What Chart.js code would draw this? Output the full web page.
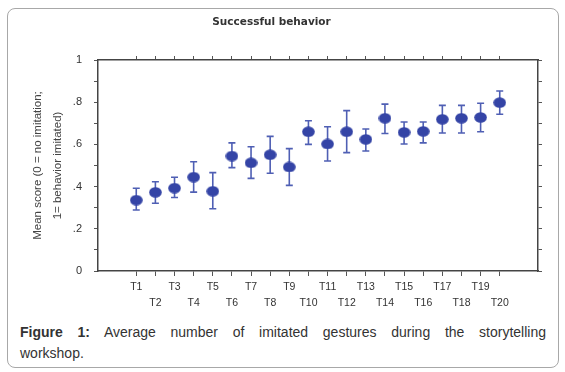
<!DOCTYPE html>
<html>
<head>
<meta charset="utf-8">
<script src="https://cdn.jsdelivr.net/npm/chart.js@4.4.1/dist/chart.umd.min.js"></script>
<style>
html, body { margin: 0; padding: 0; background: #fff; }
body { width: 565px; height: 372px; position: relative; overflow: hidden; font-family: "Liberation Sans", Arial, sans-serif; }
#frame { position: absolute; left: 7px; top: 8px; width: 550px; height: 358px; border: 1px solid #a8a8a8; border-radius: 8px; }
#wrap { position: absolute; left: 0; top: 0; width: 565px; height: 320px; }
#caption { position: absolute; left: 20px; top: 322px; width: 526px; font-size: 14px; line-height: 21px; color: #333; }
#caption .l1 { text-align: justify; text-align-last: justify; }
</style>
</head>
<body>
<div id="frame"></div>
<div id="wrap"><canvas id="chart_successfulBehavior"></canvas></div>
<div id="caption"><div class="l1"><b>Figure 1:</b> Average number of imitated gestures during the storytelling</div><div>workshop.</div></div>
<script>
// values
const categories = ['T1', 'T2', 'T3', 'T4', 'T5', 'T6', 'T7', 'T8', 'T9', 'T10',
                    'T11', 'T12', 'T13', 'T14', 'T15', 'T16', 'T17', 'T18', 'T19', 'T20'];
const meanScore = [0.336, 0.373, 0.393, 0.445, 0.378, 0.545, 0.513, 0.551, 0.493, 0.660,
                   0.602, 0.660, 0.624, 0.724, 0.657, 0.662, 0.719, 0.724, 0.728, 0.798];
const errorHigh = [0.392, 0.423, 0.444, 0.518, 0.466, 0.607, 0.589, 0.638, 0.580, 0.712,
                   0.684, 0.760, 0.673, 0.791, 0.706, 0.706, 0.785, 0.785, 0.795, 0.853];
const errorLow  = [0.289, 0.321, 0.348, 0.374, 0.295, 0.490, 0.439, 0.463, 0.406, 0.600,
                   0.521, 0.561, 0.569, 0.652, 0.602, 0.607, 0.654, 0.654, 0.660, 0.743];
const yTickLabels = ['0', '.2', '.4', '.6', '.8', '1'];

const fontFamily = '"Liberation Sans", Arial, sans-serif';
const axisColor = '#555';
const markColor = '#3444a6';

// slightly flattened dot, like the original markers
const dot = document.createElement('canvas');
dot.width = 13;
dot.height = 11;
(() => {
    const c = dot.getContext('2d');
    c.fillStyle = markColor;
    c.beginPath();
    c.ellipse(6.5, 5.5, 6.3, 5.3, 0, 0, Math.PI * 2);
    c.fill();
})();

const categoryTicks = (scale) => {
    scale.ticks = categories.map((c, i) => ({ value: i + 1 }));
};

const errorBars = {
    id: 'errorBars',
    beforeDatasetsDraw: (chart) => {
        const ctx = chart.ctx;
        const x = chart.scales.x;
        const y = chart.scales.y;
        ctx.save();
        ctx.strokeStyle = '#4f5fb4';
        ctx.lineWidth = 1.6;
        meanScore.forEach((m, i) => {
            const px = x.getPixelForValue(i + 1);
            const top = y.getPixelForValue(errorHigh[i]);
            const bot = y.getPixelForValue(errorLow[i]);
            ctx.beginPath();
            ctx.moveTo(px, top); ctx.lineTo(px, bot);
            ctx.moveTo(px - 3.5, top); ctx.lineTo(px + 3.5, top);
            ctx.moveTo(px - 3.5, bot); ctx.lineTo(px + 3.5, bot);
            ctx.stroke();
        });
        ctx.restore();
    }
};

var chart_successfulBehavior = new Chart(document.getElementById('chart_successfulBehavior'), {
    type: 'scatter',
    data: {
        datasets: [
            {
                label: 'Mean score',
                data: meanScore.map((v, i) => ({ x: i + 1, y: v })),
                pointStyle: dot,
                pointRadius: 6,
                pointBackgroundColor: markColor,
                pointBorderColor: markColor,
                showLine: false
            }
        ]
    },
    options: {
        animation: false,
        responsive: true,
        maintainAspectRatio: false,
        layout: { padding: { left: 0, right: 22, top: 0, bottom: 0 } },
        plugins: {
            legend: { display: false },
            tooltip: { enabled: false },
            title: {
                display: true,
                text: 'Successful behavior',
                color: '#333',
                font: { family: '"DejaVu Sans", Verdana, sans-serif', size: 10.5, weight: 'bold' },
                padding: { top: 16, bottom: 0 }
            }
        },
        scales: {
            x: {
                type: 'linear',
                position: 'bottom',
                min: -1,
                max: 22,
                afterBuildTicks: categoryTicks,
                afterFit: (s) => { s.height = 49; },
                ticks: {
                    autoSkip: false,
                    maxRotation: 0,
                    color: '#333',
                    padding: 3.5,
                    font: { family: fontFamily, size: 10.5, lineHeight: 1.52 },
                    callback: (v) => {
                        const i = Math.round(v) - 1;
                        return i % 2 === 0 ? [categories[i], ''] : ['', categories[i]];
                    }
                },
                grid: { drawOnChartArea: false, drawTicks: true, tickLength: 5, color: axisColor },
                border: { display: true, color: '#444', width: 1.5 }
            },
            x2: {
                type: 'linear',
                position: 'top',
                min: -1,
                max: 22,
                afterBuildTicks: categoryTicks,
                afterFit: (s) => { s.height = 31.4; },
                ticks: { display: false },
                grid: { drawOnChartArea: false, drawTicks: true, tickLength: 4, color: axisColor },
                border: { display: true, color: '#444', width: 1.5 }
            },
            y: {
                position: 'left',
                min: 0,
                max: 1,
                afterFit: (s) => { s.width = 98; },
                ticks: {
                    stepSize: 0.1,
                    color: '#333',
                    padding: 12,
                    font: { family: fontFamily, size: 11 },
                    callback: (v) => {
                        const k = Math.round(v * 10);
                        return k % 2 === 0 ? yTickLabels[k / 2] : '';
                    }
                },
                grid: { drawOnChartArea: false, drawTicks: true, tickLength: 4, color: axisColor },
                border: { display: true, color: '#444', width: 1.5 },
                title: {
                    display: true,
                    text: ['Mean score (0 = no imitation;', '1= behavior imitated)'],
                    color: '#444',
                    font: { family: fontFamily, size: 11.5, lineHeight: 1.74 },
                    padding: { top: 28, bottom: 0 }
                }
            },
            y2: {
                position: 'right',
                min: 0,
                max: 1,
                afterFit: (s) => { s.width = 5; },
                ticks: { display: false, stepSize: 0.1 },
                grid: { drawOnChartArea: false, drawTicks: true, tickLength: 4, color: axisColor },
                border: { display: true, color: '#444', width: 1.5 }
            }
        }
    },
    plugins: [errorBars]
});
</script>
</body>
</html>
